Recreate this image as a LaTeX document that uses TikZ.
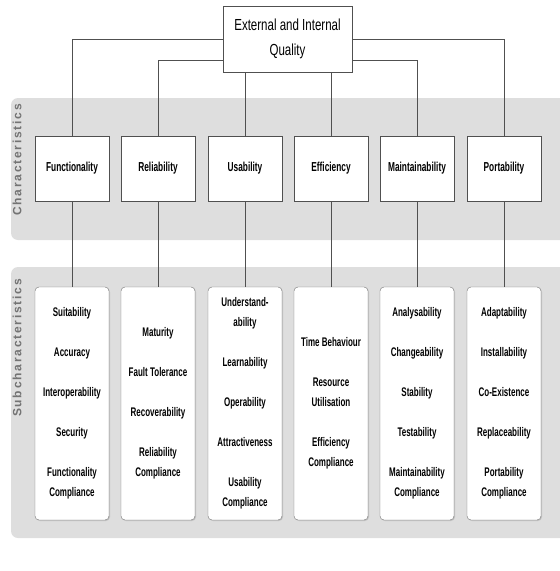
\documentclass[tikz,border=0pt]{standalone}
\usepackage{fontspec}
\usetikzlibrary{shadows}
\newfontfamily\narrowfont[FakeStretch=0.64]{Liberation Sans}
\newfontfamily\topfont[FakeStretch=0.72]{Liberation Sans}
\newfontfamily\bandfont[LetterSpace=15]{Liberation Sans}
\definecolor{bandgray}{RGB}{222,222,222}
\definecolor{linegray}{RGB}{80,80,80}
\tikzset{
  band/.style={fill=bandgray, rounded corners=7pt},
  bandlabel/.style={rotate=90, text=black!55, font=\bandfont\bfseries\fontsize{12}{14}\selectfont},
  boxshadow/.style={drop shadow={shadow xshift=1pt, shadow yshift=-1pt, fill=black!35}},
  topbox/.style={draw=linegray, fill=white, boxshadow, minimum width=129pt, minimum height=66pt,
    align=center, font=\topfont\fontsize{16}{25}\selectfont},
  charbox/.style={draw=linegray, fill=white, boxshadow, minimum width=74pt, minimum height=65pt,
    font=\narrowfont\bfseries\fontsize{13}{16}\selectfont},
  subbox/.style={draw=black!55, fill=white, boxshadow, rounded corners=4pt, minimum width=74pt,
    minimum height=233pt, align=center, font=\narrowfont\bfseries\fontsize{12.5}{20}\selectfont},
  link/.style={draw=linegray, line width=0.8pt}
}
\begin{document}
\begin{tikzpicture}[x=1pt,y=-1pt]
	\useasboundingbox (0,0) rectangle (560,571);
	\clip (0,0) rectangle (560,571);
	% bands
	\fill[band] (11,98) rectangle (580,240);
	\fill[band] (11,267) rectangle (580,538);
	\node[bandlabel] (charlabel) at (17,160) {Characteristics};
	\node[bandlabel] (sublabel) at (17,348) {Subcharacteristics};

	% quality
	\node[topbox] (quality) at (287.5,39) {External and Internal\\Quality};

	% characteristics
	\node[charbox] (func) at (72,168.5) {Functionality};
	\node[charbox] (reli) at (158,168.5) {Reliability};
	\node[charbox] (usab) at (245,168.5) {Usability};
	\node[charbox] (effi) at (331,168.5) {Efficiency};
	\node[charbox] (main) at (417,168.5) {Maintainability};
	\node[charbox] (port) at (504,168.5) {Portability};

	\draw[link] (quality.west) -| (func.north);
	\draw[link] ([yshift=-21pt]quality.west) -| (reli.north);
	\draw[link] (quality.south -| usab.north) -- (usab.north);
	\draw[link] (quality.south -| effi.north) -- (effi.north);
	\draw[link] ([yshift=-21pt]quality.east) -| (main.north);
	\draw[link] (quality.east) -| (port.north);

	%% subcharacteristics
	\node[subbox] (sfunc) at (72,403.5) {Suitability\\[20pt]Accuracy\\[20pt]Interoperability\\[20pt]Security\\[20pt]Functionality\\Compliance};
	\node[subbox] (sreli) at (158,403.5) {Maturity\\[20pt]Fault Tolerance\\[20pt]Recoverability\\[20pt]Reliability\\Compliance};
	\node[subbox] (susab) at (245,403.5) {Understand-\\ability\\[20pt]Learnability\\[20pt]Operability\\[20pt]Attractiveness\\[20pt]Usability\\Compliance};
	\node[subbox] (seffi) at (331,403.5) {Time Behaviour\\[20pt]Resource\\Utilisation\\[20pt]Efficiency\\Compliance};
	\node[subbox] (smain) at (417,403.5) {Analysability\\[20pt]Changeability\\[20pt]Stability\\[20pt]Testability\\[20pt]Maintainability\\Compliance};
	\node[subbox] (sport) at (504,403.5) {Adaptability\\[20pt]Installability\\[20pt]Co-Existence\\[20pt]Replaceability\\[20pt]Portability\\Compliance};

	\foreach \c in {func,reli,usab,effi,main,port}
		\draw[link] (\c) -- (s\c);
\end{tikzpicture}
\end{document}
